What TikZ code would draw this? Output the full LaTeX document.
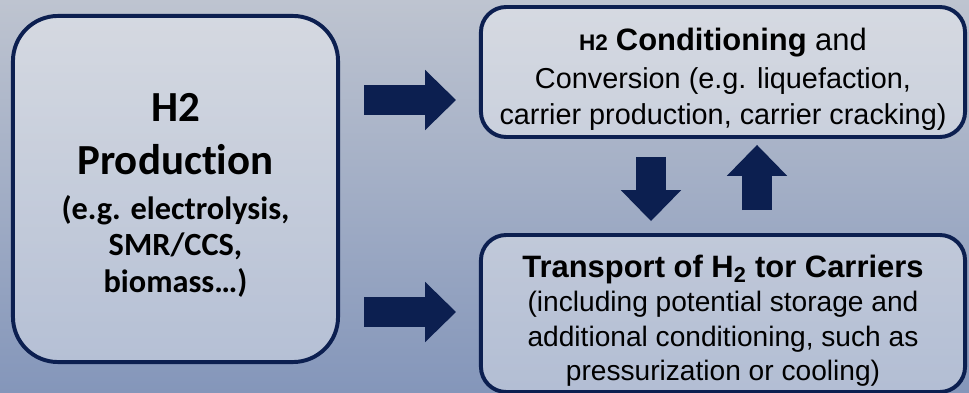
\documentclass[tikz,border=0pt]{standalone}
\usepackage{fontspec}
\setmainfont{Liberation Sans}
\newfontfamily\calibri[Ligatures=NoCommon]{Carlito}
\usetikzlibrary{arrows.meta}

\definecolor{navy}{RGB}{12,31,80}
\definecolor{skytop}{RGB}{190,196,208}
\definecolor{skymid}{RGB}{202,209,224}
\definecolor{skybot}{RGB}{132,150,186}

\tikzset{
  stagebox/.style={draw=navy, line width=2.8pt, fill=white, fill opacity=0.38, text opacity=1, align=center, inner sep=0pt},
  blockarrow/.style={navy, line width=21.3pt, -{Triangle[length=22pt, width=43pt, line width=0pt]}}
}

\begin{document}
\begin{tikzpicture}[x=0.025cm, y=-0.025cm]
  \useasboundingbox (0,0) rectangle (969,393);
  \shade[top color=skytop, middle color=skymid, bottom color=skybot] (0,0) rectangle (969,393);

  \node[stagebox, rounded corners=32pt, minimum width=8.125cm, minimum height=8.65cm,
        font=\calibri\bfseries\fontsize{23}{25.8}\selectfont] (prod) at (175.5,189)
    {\rule{0pt}{29pt}{\fontsize{30.5}{37}\selectfont H2}\\[11.4pt]{\fontsize{30.5}{37}\selectfont Production}\\[6.4pt]
     (e.g. electrolysis,\\SMR/CCS,\\biomass…)};
  \node[stagebox, rounded corners=18pt, minimum width=12.1cm, minimum height=3.25cm,
        font=\fontsize{20.5}{25.6}\selectfont] (cond) at (723,72)
    {\rule{0pt}{26pt}{\fontsize{16}{20}\selectfont\bfseries H2} {\fontsize{22}{26}\selectfont\textbf{Conditioning} and}\\[1.4pt]
     Conversion (e.g. liquefaction,\\carrier production, carrier cracking)};
  \node[stagebox, rounded corners=18pt, minimum width=12.1cm, minimum height=3.925cm,
        font=\fontsize{20}{24.5}\selectfont] (trans) at (723,313.5)
    {\rule{0pt}{26pt}{\fontsize{22}{26}\selectfont\bfseries Transport of H\textsubscript{2} tor Carriers}\\
     (including potential storage and\\additional conditioning, such as\\pressurization or cooling)};

  \draw[blockarrow] ([xshift=0.6cm]prod.east |- 0,100) -- ([xshift=-0.575cm]cond.west |- 0,100);
  \draw[blockarrow] ([xshift=0.6cm]prod.east |- 0,312) -- ([xshift=-0.575cm]trans.west |- 0,312);
  \draw[blockarrow] ([yshift=-0.45cm]cond.south -| 651,0) -- ([yshift=0.3cm]trans.north -| 651,0);
  \draw[blockarrow] ([yshift=0.575cm]trans.north -| 757,0) -- ([yshift=-0.15cm]cond.south -| 757,0);
\end{tikzpicture}
\end{document}
